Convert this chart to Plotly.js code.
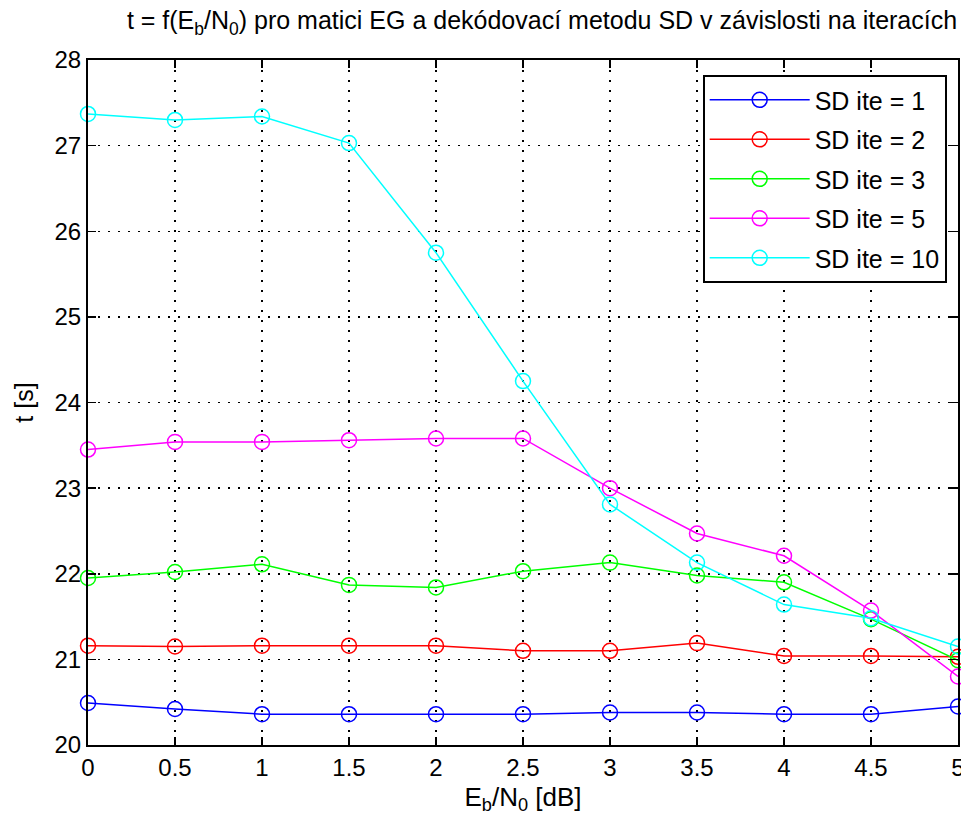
<!DOCTYPE html>
<html>
<head>
<meta charset="utf-8">
<script src="https://cdn.plot.ly/plotly-3.0.1.min.js"></script>
<style>html,body{margin:0;padding:0;background:#fff;}#chart{width:961px;height:823px;}</style>
</head>
<body>
<div id="chart"></div>
<script>
const ebn0 = [0, 0.5, 1, 1.5, 2, 2.5, 3, 3.5, 4, 4.5, 5];
const ite1 = [20.49, 20.42, 20.36, 20.36, 20.36, 20.36, 20.38, 20.38, 20.36, 20.36, 20.45];
const ite2 = [21.16, 21.15, 21.16, 21.16, 21.16, 21.10, 21.10, 21.19, 21.04, 21.04, 21.03];
const ite3 = [21.95, 22.02, 22.11, 21.87, 21.84, 22.03, 22.13, 21.98, 21.90, 21.47, 20.99];
const ite5 = [23.45, 23.54, 23.54, 23.56, 23.58, 23.58, 23.00, 22.47, 22.21, 21.57, 20.80];
const ite10 = [27.37, 27.30, 27.34, 27.03, 25.75, 24.25, 22.81, 22.13, 21.64, 21.48, 21.15];
const seriesNames = ['SD ite = 1', 'SD ite = 2', 'SD ite = 3', 'SD ite = 5', 'SD ite = 10'];
const seriesValues = [ite1, ite2, ite3, ite5, ite10];
const colors = ['#0000ff', '#ff0000', '#00ff00', '#ff00ff', '#00ffff'];
const xTicks = [0, 0.5, 1, 1.5, 2, 2.5, 3, 3.5, 4, 4.5, 5];
const xTickText = ['0', '0.5', '1', '1.5', '2', '2.5', '3', '3.5', '4', '4.5', '5'];
const yTicks = [20, 21, 22, 23, 24, 25, 26, 27, 28];

const FONT = 'Liberation Sans, Arial, sans-serif';
const traces = seriesValues.map((vals, i) => ({
  x: ebn0, y: vals, name: seriesNames[i], type: 'scatter', mode: 'lines+markers',
  legendgroup: 'g' + i,
  line: {color: colors[i], width: 1.5},
  marker: {symbol: 'circle-open', size: 15, color: colors[i], line: {width: 1.5, color: colors[i]}},
  cliponaxis: false
}));

const axisCommon = {
  showline: true, mirror: 'ticks', linecolor: '#000', linewidth: 2,
  ticks: 'inside', ticklen: 8, tickwidth: 1.5, tickcolor: '#000',
  showgrid: true, gridcolor: '#000', gridwidth: 1.5, griddash: '2px,8px',
  zeroline: false, tickfont: {family: FONT, size: 24, color: '#000'},
  ticklabeloverflow: 'allow'
};

const layout = {
  width: 961, height: 823,
  margin: {l: 88, r: 3, t: 60, b: 78},
  paper_bgcolor: '#fff', plot_bgcolor: '#fff',
  font: {family: FONT, color: '#000'},
  title: {
    text: 't = f(E<sub>b</sub>/N<sub>0</sub>) pro matici EG a dekódovací metodu SD v závislosti na iteracích',
    font: {family: FONT, size: 25, color: '#000'},
    xref: 'container', x: 0.564, xanchor: 'center',
    yref: 'container', y: 0.975, yanchor: 'middle'
  },
  xaxis: Object.assign({}, axisCommon, {
    range: [0, 5], tickmode: 'array', tickvals: xTicks, ticktext: xTickText,
    title: {text: 'E<sub>b</sub>/N<sub>0</sub> [dB]', font: {family: FONT, size: 26, color: '#000'}, standoff: 8}
  }),
  yaxis: Object.assign({}, axisCommon, {
    range: [20, 28], tickmode: 'array', tickvals: yTicks,
    title: {text: 't [s]', font: {family: FONT, size: 25, color: '#000'}, standoff: 14}
  }),
  legend: {
    x: 0.987, y: 0.978, xanchor: 'right', yanchor: 'top',
    bgcolor: '#fff', bordercolor: '#000', borderwidth: 2,
    font: {family: FONT, size: 25, color: '#000'},
    tracegroupgap: 4, itemwidth: 100
  },
  showlegend: true
};

Plotly.newPlot('chart', traces, layout, {displayModeBar: false, staticPlot: true});
</script>
</body>
</html>
